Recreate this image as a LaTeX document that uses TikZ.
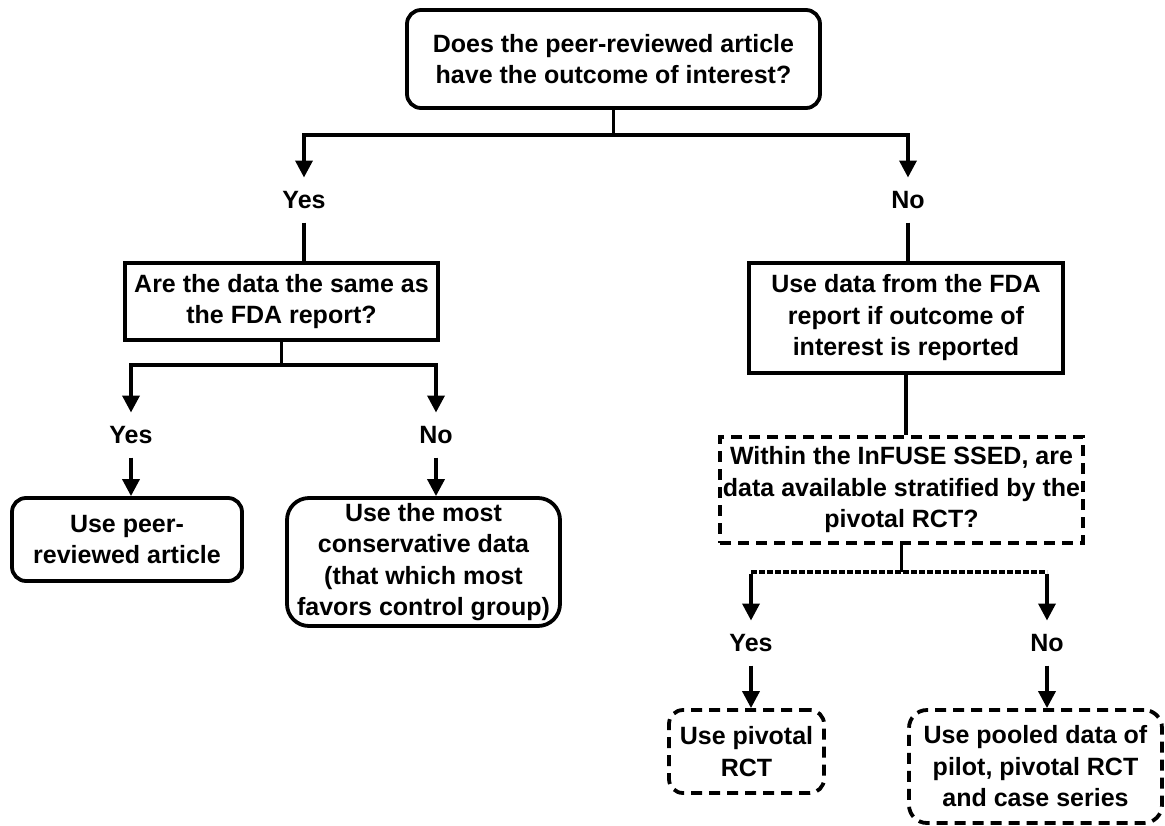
\documentclass[tikz,border=0pt]{standalone}
\usepackage{fontspec}
\setmainfont{Liberation Sans}
\usetikzlibrary{arrows.meta}
\begin{document}
\begin{tikzpicture}[x=1pt,y=-1pt,
  every node/.style={font=\bfseries\fontsize{25}{31.5}\selectfont, align=center, inner sep=0pt},
  box/.style={draw, line width=3.8pt},
  rbox/.style={box, rounded corners=14pt},
  dbox/.style={box, dash pattern=on 11pt off 7pt},
  lab/.style={text height=17pt, text depth=0pt, outer sep=14pt},
  conn/.style={line width=3.6pt},
  arr/.style={conn, -{Triangle[width=17pt,length=17pt]}}
]
\useasboundingbox (0,0) rectangle (1165,825);

\node[rbox, minimum width=413pt, minimum height=98pt] (top) at (613.5,59)
  {Does the peer-reviewed article\\have the outcome of interest?};
\node[box, minimum width=313pt, minimum height=77pt] (q2) at (281.5,301.5)
  {Are the data the same as\\the FDA report?};
\node[box, minimum width=314pt, minimum height=110pt] (fda) at (906,318)
  {Use data from the FDA\\report if outcome of\\interest is reported};
\node[dbox, minimum width=363pt, minimum height=106pt] (q3) at (901.5,490)
  {Within the InFUSE SSED, are\\data available stratified by the\\pivotal RCT?};
\node[rbox, minimum width=230pt, minimum height=83pt] (peer) at (127,539.5)
  {Use peer-\\reviewed article};
\node[box, rounded corners=22pt, minimum width=273pt, minimum height=128pt] (cons) at (423.5,562)
  {Use the most\\conservative data\\(that which most\\favors control group)};
\node[dbox, rounded corners=14pt, minimum width=155pt, minimum height=83pt] (piv) at (746.5,751.5)
  {Use pivotal\\RCT};
\node[dbox, rounded corners=18pt, minimum width=253pt, minimum height=113pt] (pool) at (1035.5,766.5)
  {Use pooled data of\\pilot, pivotal RCT\\and case series};

\node[lab] (yes1) at (304,200) {Yes};
\node[lab] (no1) at (908,200) {No};
\node[lab] (yes2) at (131,435) {Yes};
\node[lab] (no2) at (436,435) {No};
\node[lab] (yes3) at (751,643) {Yes};
\node[lab] (no3) at (1047,643) {No};

\path (top.south) ++(0,25) coordinate (j1);
\draw[conn] (top.south) -- (j1);
\draw[arr] (j1) -| (yes1.north);
\draw[arr] (j1) -| (no1.north);
\draw[conn] (yes1.south) -- (yes1.south |- q2.north);
\draw[conn] (no1.south) -- (no1.south |- fda.north);

\path (q2.south) ++(0,23) coordinate (j2);
\draw[conn] (q2.south) -- (j2);
\draw[arr] (j2) -| (yes2.north);
\draw[arr] (j2) -| (no2.north);
\draw[arr] (yes2.south) -- (yes2.south |- peer.north);
\draw[arr] (no2.south) -- (no2.south |- cons.north);

\draw[conn] (fda.south) -- (fda.south |- q3.north);
\path (q3.south) ++(0,27) coordinate (j3);
\draw[conn] (q3.south) -- (j3);
\coordinate (c3l) at (yes3.north |- j3);
\coordinate (c3r) at (no3.north |- j3);
\draw[conn, dash pattern=on 6pt off 2pt] (c3l) -- (c3r);
\draw[arr] ([yshift=-1.8pt]c3l) -- (yes3.north);
\draw[arr] ([yshift=-1.8pt]c3r) -- (no3.north);
\draw[arr] (yes3.south) -- (yes3.south |- piv.north);
\draw[arr] (no3.south) -- (no3.south |- pool.north);
\end{tikzpicture}
\end{document}
